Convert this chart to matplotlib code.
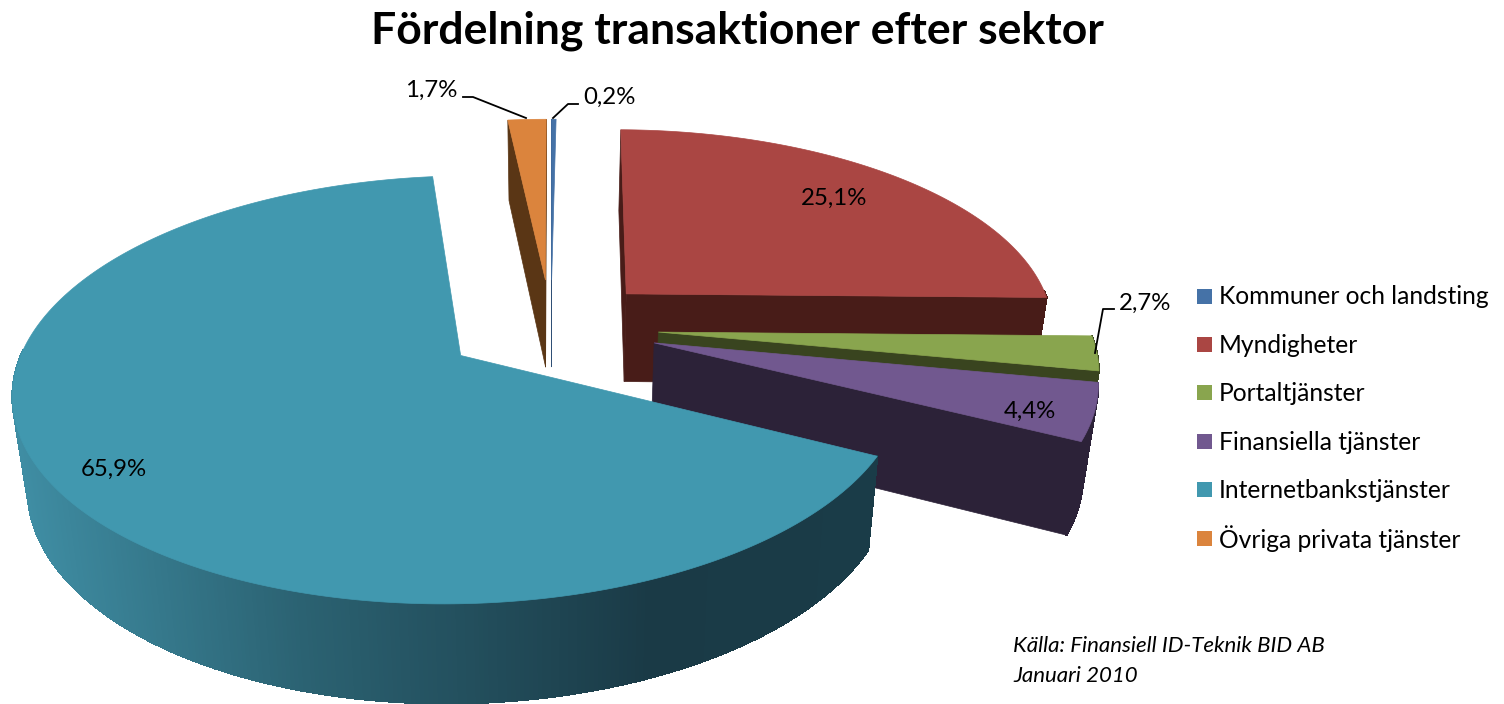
#!/usr/bin/python3
# coding: utf-8

import numpy as np
import matplotlib
matplotlib.use('Agg')
import matplotlib.pyplot as plt
from matplotlib.patches import Polygon, Rectangle
from matplotlib.colors import to_rgb

# data
sectors = ['Kommuner och landsting', 'Myndigheter', 'Portaltjänster',
           'Finansiella tjänster', 'Internetbankstjänster', 'Övriga privata tjänster']
shares = [0.2, 25.1, 2.7, 4.4, 65.9, 1.7]
share_labels = ['0,2%', '25,1%', '2,7%', '4,4%', '65,9%', '1,7%']

# styles
top_colors = ['#4572A7', '#AA4643', '#89A54E', '#71588F', '#4198AF', '#DB843D']
side_colors = ['#2F4F75', '#481C18', '#39441F', '#2C2238', '#1A3C48', '#5A3615']
draw_order = [0, 5, 1, 2, 3, 4]

# projection of the exploded pie, in pixels
CX, CY = 551, 327
SCALE_X, SCALE_Y = 439, 199.5
RADIUS_X = 0.98
PERSP = 0.157
EXPLODE = 0.245
DEPTH = 89
BOTTOM_SHRINK = 0.972


def project(x, y):
    s = 1 / (1 - PERSP * y)
    return CX + SCALE_X * x * s, CY + SCALE_Y * y * s, s


def bottom(px, s, py):
    return CX + (px - CX) * BOTTOM_SHRINK, py + DEPTH * s ** 0.57


def slice_points(a0, a1):
    # angles clockwise from the top, returns apex and arc in pixels, top and bottom plane
    mid = (a0 + a1) / 2
    ox, oy = EXPLODE * np.sin(mid), -EXPLODE * np.cos(mid)
    n = max(int((a1 - a0) / np.radians(0.5)), 2)
    t = np.linspace(a0, a1, n)
    x, y, s = project(ox + RADIUS_X * np.sin(t), oy - np.cos(t))
    ax_, ay_, as_ = project(ox, oy)
    bx, by = bottom(x, s, y)
    abx, aby = bottom(ax_, as_, ay_)
    return t, (ax_, ay_), (abx, aby), x, y, bx, by


def face_visible(apex, x, y, bx, by, k):
    # the cut face shows when its lower edge falls outside the top of the slice
    m = len(x) // 2
    ex, ey = x[k] - apex[0], y[k] - apex[1]
    inner = ex * (y[m] - apex[1]) - ey * (x[m] - apex[0])
    shift = ex * (by[k] - y[k]) - ey * (bx[k] - x[k])
    return inner * shift < 0


def teal_side(px):
    # shading of the curved side follows the screen position
    stops = [20, 300, 650, 880]
    cols = np.array([to_rgb('#3F8DA3'), to_rgb('#2B6272'), to_rgb('#1A3A46'), to_rgb('#1A3C48')])
    return [np.interp(px, stops, cols[:, i]) for i in range(3)]


fig = plt.figure(figsize=(15.04, 7.04), dpi=100)
ax = fig.add_axes([0, 0, 1, 1])
ax.set_xlim(0, 1504)
ax.set_ylim(704, 0)
ax.axis('off')
plt.rcParams['font.family'] = ['Lato', 'DejaVu Sans']

edges = np.radians(np.concatenate([[0], np.cumsum(shares)]) * 3.6)

for i in draw_order:
    t, apex, apex_b, x, y, bx, by = slice_points(edges[i], edges[i + 1])
    side = side_colors[i]
    # cut faces
    for k in (0, -1):
        if face_visible(apex, x, y, bx, by, k):
            ax.add_patch(Polygon([apex, (x[k], y[k]), (bx[k], by[k]), apex_b], fc=side, ec=side, lw=0.5))
    # curved side, front half only, back to front
    for k in np.argsort(y[:-1]):
        if np.cos(t[k]) > 0.02:
            continue
        c = teal_side((x[k] + x[k + 1]) / 2) if i == 4 else side
        ax.add_patch(Polygon([(x[k], y[k]), (x[k + 1], y[k + 1]), (bx[k + 1], by[k + 1]), (bx[k], by[k])],
                             fc=c, ec=c, lw=0.8, antialiased=False))
    # top
    ax.add_patch(Polygon([apex] + list(zip(x, y)), fc=top_colors[i], ec=top_colors[i], lw=0.5))

# labels on slices
ax.text(834, 198, share_labels[1], fontsize=17.3, ha='center', va='center', color='black')
ax.text(1030, 411, share_labels[3], fontsize=17.3, ha='center', va='center', color='black')
ax.text(114, 469, share_labels[4], fontsize=17.3, ha='center', va='center', color='black')

# labels with leader lines
ax.text(431, 90, share_labels[5], fontsize=17.3, ha='center', va='center', color='black')
ax.plot([463, 473, 526], [97, 97, 118], color='black', lw=1.3)
ax.text(609, 97, share_labels[0], fontsize=17.3, ha='center', va='center', color='black')
ax.plot([578, 568, 553], [104, 104, 118], color='black', lw=1.3)
ax.text(1145, 303, share_labels[2], fontsize=17.3, ha='center', va='center', color='black')
ax.plot([1114, 1103, 1095], [309, 309, 353], color='black', lw=1.3)

# legend, evenly spaced rows
for i, name in enumerate(sectors):
    row = 296 + 48.4 * i
    ax.add_patch(Rectangle((1197, row - 7.5), 15, 15, fc=top_colors[i], ec='none'))
    ax.text(1219, row - 1, name, fontsize=17.7, va='center_baseline', color='black')

fig.text(737 / 1504, 1 - 31 / 704, 'Fördelning transaktioner efter sektor', fontsize=32, fontweight='bold',
         ha='center', va='center', color='black')
ax.text(1013, 646, 'Källa: Finansiell ID-Teknik BID AB', fontsize=16, style='italic', va='center', color='black')
ax.text(1013, 676, 'Januari 2010', fontsize=16, style='italic', va='center', color='black')

fig.savefig('out.png', dpi=100)
